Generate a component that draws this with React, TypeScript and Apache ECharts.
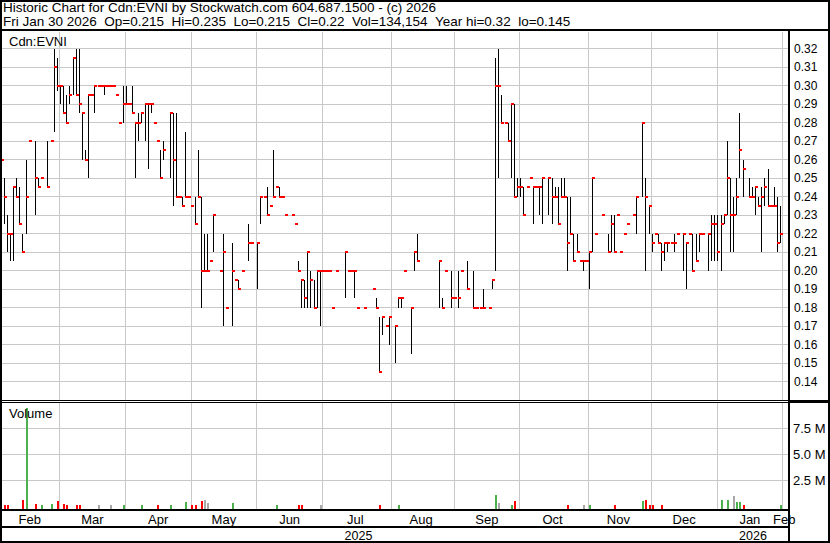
import React, { useEffect, useRef } from 'react';
import * as echarts from 'echarts';

// ---------- calendar ----------
const FIRST_DAY = '2025-02-03';
const LAST_DAY = '2026-02-03'; // two empty trailing sessions (Feb 2026)
const HOLIDAYS = [
  '2025-02-17', '2025-04-18', '2025-05-19', '2025-07-01', '2025-08-04',
  '2025-09-01', '2025-10-13', '2025-12-25', '2025-12-26', '2026-01-01',
];
const MONTHS = ['Jan', 'Feb', 'Mar', 'Apr', 'May', 'Jun', 'Jul', 'Aug', 'Sep', 'Oct', 'Nov', 'Dec'];

// ---------- texts ----------
const HEADER_1 = 'Historic Chart for Cdn:EVNI by Stockwatch.com 604.687.1500 - (c) 2026';
const HEADER_2 = ['Fri Jan 30 2026', 'Op=0.215', 'Hi=0.235', 'Lo=0.215', 'Cl=0.22', 'Vol=134,154', 'Year hi=0.32', 'lo=0.145'];
const SYMBOL_LABEL = 'Cdn:EVNI';
const VOLUME_LABEL = 'Volume';

// ---------- axes ----------
const PRICE_MIN = 0.13;
const PRICE_MAX = 0.329;
const PRICE_STEP = 0.01;
const VOL_MIN = 0;
const VOL_MAX = 9.93;
const VOL_STEP = 2.5;

// ---------- daily bars: [high, low, close], null = no trade ----------
type Bar = [number, number, number] | null;

const feb25: Bar[] = [
  [0.27, 0.23, 0.26], [0.25, 0.225, 0.24], [0.23, 0.21, 0.22], [0.22, 0.205, 0.22], [0.245, 0.205, 0.245],
  [0.25, 0.24, 0.24], [0.245, 0.225, 0.225], [0.22, 0.21, 0.21], [0.26, 0.22, 0.24], [0.27, 0.27, 0.27],
  null, [0.27, 0.23, 0.25], [0.25, 0.245, 0.245], [0.25, 0.25, 0.25], null,
  [0.27, 0.245, 0.245], [0.27, 0.27, 0.27], [0.32, 0.275, 0.31], [0.315, 0.297, 0.30],
];
const mar25: Bar[] = [
  [0.30, 0.29, 0.30], [0.30, 0.285, 0.285], [0.295, 0.28, 0.28], [0.30, 0.29, 0.295], [0.315, 0.295, 0.315],
  [0.32, 0.295, 0.295], [0.32, 0.285, 0.29], [0.285, 0.26, 0.285], [0.265, 0.26, 0.26], [0.295, 0.25, 0.295],
  [0.295, 0.295, 0.295], [0.30, 0.285, 0.30], [0.30, 0.30, 0.30], [0.30, 0.30, 0.30], [0.30, 0.295, 0.30],
  [0.30, 0.30, 0.30], [0.30, 0.30, 0.30], [0.30, 0.30, 0.30], [0.295, 0.295, 0.295], [0.28, 0.28, 0.28],
  [0.30, 0.28, 0.29],
];
const apr25: Bar[] = [
  [0.30, 0.29, 0.29], [0.29, 0.29, 0.29], [0.30, 0.285, 0.285], [0.28, 0.25, 0.28], [0.285, 0.27, 0.28],
  [0.285, 0.28, 0.285], [0.29, 0.27, 0.29], [0.29, 0.255, 0.29], [0.29, 0.285, 0.29], [0.28, 0.28, 0.28],
  [0.27, 0.27, 0.27], [0.265, 0.25, 0.25], [0.27, 0.26, 0.265], null, [0.285, 0.25, 0.285],
  [0.285, 0.235, 0.26], [0.285, 0.24, 0.24], [0.24, 0.24, 0.24], [0.24, 0.235, 0.235], [0.275, 0.24, 0.24],
  [0.24, 0.24, 0.24],
];
const may25: Bar[] = [
  [0.235, 0.235, 0.235], [0.24, 0.225, 0.225], [0.265, 0.24, 0.24], [0.24, 0.18, 0.20], [0.22, 0.20, 0.20],
  [0.22, 0.20, 0.20], [0.205, 0.205, 0.205], [0.23, 0.21, 0.23], null, [0.20, 0.20, 0.20],
  [0.22, 0.17, 0.21], [0.18, 0.18, 0.18], null, [0.215, 0.17, 0.20], [0.195, 0.195, 0.195],
  [0.195, 0.19, 0.19], [0.20, 0.20, 0.20], null, [0.225, 0.205, 0.215], [0.215, 0.215, 0.215],
  null,
];
const jun25: Bar[] = [
  [0.215, 0.19, 0.215], [0.24, 0.225, 0.24], [0.24, 0.24, 0.24], [0.245, 0.23, 0.23], [0.235, 0.235, 0.235],
  [0.265, 0.24, 0.24], [0.245, 0.245, 0.245], [0.245, 0.24, 0.24], [0.24, 0.24, 0.24], [0.23, 0.23, 0.23],
  null, [0.23, 0.23, 0.23], [0.225, 0.225, 0.225], [0.205, 0.20, 0.20], [0.195, 0.18, 0.195],
  [0.195, 0.18, 0.185], [0.21, 0.18, 0.21], [0.20, 0.18, 0.195], [0.195, 0.18, 0.18], [0.20, 0.18, 0.20],
  [0.20, 0.17, 0.20],
];
const jul25: Bar[] = [
  [0.20, 0.20, 0.20], [0.20, 0.20, 0.20], [0.20, 0.20, 0.20], [0.18, 0.18, 0.18], [0.20, 0.20, 0.20],
  null, null, [0.21, 0.185, 0.21], [0.20, 0.20, 0.20], [0.20, 0.20, 0.20],
  [0.20, 0.185, 0.20], [0.18, 0.18, 0.18], null, [0.18, 0.18, 0.18], null,
  null, [0.19, 0.19, 0.19], [0.185, 0.18, 0.18], [0.175, 0.145, 0.145], [0.175, 0.165, 0.175],
  [0.17, 0.17, 0.17], [0.175, 0.16, 0.175],
];
const aug25: Bar[] = [
  null, [0.17, 0.15, 0.17], [0.185, 0.18, 0.185], [0.185, 0.18, 0.185], [0.20, 0.20, 0.20],
  null, [0.18, 0.155, 0.18], [0.21, 0.20, 0.21], [0.22, 0.205, 0.205], null,
  null, null, null, null, null,
  [0.205, 0.18, 0.205], [0.185, 0.18, 0.18], [0.20, 0.20, 0.20], null, [0.20, 0.18, 0.185],
];
const sep25: Bar[] = [
  [0.185, 0.185, 0.185], [0.20, 0.18, 0.185], [0.20, 0.20, 0.20], null, [0.205, 0.19, 0.19],
  null, [0.20, 0.18, 0.18], [0.18, 0.18, 0.18], [0.18, 0.18, 0.18], [0.19, 0.18, 0.18],
  null, [0.18, 0.18, 0.18], [0.195, 0.19, 0.195], [0.315, 0.20, 0.30], [0.32, 0.25, 0.30],
  [0.295, 0.28, 0.28], [0.28, 0.28, 0.28], [0.28, 0.27, 0.27], [0.29, 0.25, 0.29], [0.29, 0.24, 0.24],
  [0.25, 0.24, 0.245],
];
const oct25: Bar[] = [
  [0.25, 0.24, 0.245], [0.245, 0.23, 0.23], [0.245, 0.245, 0.245], [0.25, 0.25, 0.25], [0.245, 0.225, 0.245],
  [0.245, 0.245, 0.245], [0.245, 0.23, 0.245], [0.25, 0.225, 0.25], null, [0.25, 0.23, 0.25],
  [0.25, 0.225, 0.24], [0.245, 0.24, 0.24], [0.245, 0.225, 0.225], [0.25, 0.24, 0.24], [0.25, 0.24, 0.24],
  [0.24, 0.20, 0.215], [0.24, 0.22, 0.22], [0.22, 0.205, 0.205], [0.22, 0.21, 0.21], [0.205, 0.205, 0.205],
  [0.205, 0.20, 0.205], [0.205, 0.205, 0.205],
];
const nov25: Bar[] = [
  [0.21, 0.19, 0.21], [0.25, 0.21, 0.25], [0.22, 0.22, 0.22], null, [0.23, 0.23, 0.23],
  null, [0.22, 0.21, 0.21], [0.23, 0.21, 0.225], [0.23, 0.21, 0.21], [0.23, 0.23, 0.23],
  [0.21, 0.21, 0.21], [0.22, 0.22, 0.22], [0.225, 0.225, 0.225], null, [0.23, 0.23, 0.23],
  [0.24, 0.22, 0.24], null, [0.28, 0.24, 0.28], [0.25, 0.20, 0.24], [0.235, 0.22, 0.235],
];
const dec25: Bar[] = [
  [0.22, 0.21, 0.215], [0.22, 0.22, 0.22], [0.22, 0.215, 0.215], [0.215, 0.20, 0.21], [0.215, 0.205, 0.215],
  [0.215, 0.21, 0.215], [0.215, 0.215, 0.215], [0.22, 0.21, 0.215], [0.22, 0.22, 0.22], null,
  [0.22, 0.20, 0.22], [0.215, 0.19, 0.215], [0.22, 0.22, 0.22], [0.22, 0.20, 0.20], [0.22, 0.205, 0.205],
  [0.22, 0.21, 0.22], [0.22, 0.22, 0.22], null, [0.22, 0.20, 0.22], [0.23, 0.205, 0.225],
  [0.23, 0.205, 0.225],
];
const jan26: Bar[] = [
  [0.23, 0.205, 0.21], [0.23, 0.20, 0.225], [0.23, 0.225, 0.23], [0.27, 0.23, 0.25], [0.25, 0.21, 0.23],
  [0.24, 0.21, 0.23], [0.25, 0.23, 0.24], [0.285, 0.25, 0.265], [0.26, 0.24, 0.255], null,
  [0.25, 0.24, 0.24], [0.245, 0.24, 0.24], [0.245, 0.23, 0.245], [0.24, 0.235, 0.235], [0.245, 0.21, 0.24],
  [0.25, 0.235, 0.245], [0.255, 0.235, 0.235], [0.235, 0.235, 0.235], [0.245, 0.235, 0.235], [0.24, 0.21, 0.215],
  [0.235, 0.215, 0.22],
];

// volume in millions of shares: [session index, volume]
const volumeMillions: [number, number][] = [
  [1, 0.12], [2, 0.12], [7, 0.65], [8, 9.45], [11, 0.2], [13, 0.1], [16, 0.2], [18, 0.5],
  [20, 0.2], [21, 0.1], [24, 0.1], [25, 0.1], [31, 0.1], [35, 0.1], [39, 0.1],
  [45, 0.1], [50, 0.1], [54, 0.1], [59, 0.4],
  [61, 0.1], [62, 0.1], [64, 0.5], [65, 0.65], [66, 0.3], [74, 0.3],
  [88, 0.1], [95, 0.1], [96, 0.1], [102, 0.1],
  [121, 0.1], [127, 0.1],
  [158, 1.04], [159, 0.3], [163, 0.1], [164, 0.5],
  [181, 0.1], [186, 0.1],
  [188, 0.1], [196, 0.1], [205, 0.5], [206, 0.6], [207, 0.1],
  [208, 0.1], [211, 0.1],
  [230, 0.6], [232, 0.6], [234, 1.0], [235, 0.4], [236, 0.45], [237, 0.1], [249, 0.134],
];

// ---------- style ----------
const FONT = '"Liberation Sans", Arial, Helvetica, sans-serif';
const GRID_COLOR = '#c8c8c8';
const UP = '#4cb04c';
const DOWN = '#ff0000';
const FLAT = '#a8a8a8';

function buildDates(): string[] {
  const out: string[] = [];
  const d = new Date(FIRST_DAY + 'T00:00:00Z');
  const end = new Date(LAST_DAY + 'T00:00:00Z');
  while (d.getTime() <= end.getTime()) {
    const wd = d.getUTCDay();
    const s = d.toISOString().slice(0, 10);
    if (wd !== 0 && wd !== 6 && HOLIDAYS.indexOf(s) < 0) out.push(s);
    d.setUTCDate(d.getUTCDate() + 1);
  }
  return out;
}

function buildOption() {
  const dates = buildDates();
  const bars: Bar[] = [
    ...feb25, ...mar25, ...apr25, ...may25, ...jun25, ...jul25,
    ...aug25, ...sep25, ...oct25, ...nov25, ...dec25, ...jan26,
  ];

  const ohlc: number[][] = [];
  const closes: (number | null)[] = [];
  bars.forEach((b, i) => {
    if (b) {
      ohlc.push([i, b[0], b[1], b[2]]);
      closes.push(b[2]);
    } else closes.push(null);
  });

  const prevClose = (i: number) => {
    for (let k = i - 1; k >= 0; k--) if (closes[k] != null) return closes[k] as number;
    return null;
  };
  const vol = volumeMillions.map(([i, v]) => {
    const c = closes[i];
    const p = prevClose(i);
    let dir = -1;
    if (c != null && p != null) dir = c > p ? 1 : c < p ? -1 : 0;
    return [i, v, dir];
  });

  // month / year groupings from the category list
  const monthStart = new Set<number>();
  const monthMid = new Set<number>();
  const yearMid = new Set<number>();
  let firstNewYear = -1;
  const groupMid = (keyLen: number, target: Set<number>) => {
    let s = 0;
    for (let i = 1; i <= dates.length; i++) {
      if (i === dates.length || dates[i].slice(0, keyLen) !== dates[s].slice(0, keyLen)) {
        target.add(Math.floor((s + i - 1) / 2));
        s = i;
      }
    }
  };
  groupMid(7, monthMid);
  groupMid(4, yearMid);
  for (let i = 1; i < dates.length; i++) {
    if (dates[i].slice(0, 7) !== dates[i - 1].slice(0, 7)) monthStart.add(i);
    if (firstNewYear < 0 && dates[i].slice(0, 4) !== dates[i - 1].slice(0, 4)) firstNewYear = i;
  }

  const monthSplit = {
    show: true,
    interval: (i: number) => monthStart.has(i),
    lineStyle: { color: GRID_COLOR, width: 1 },
  };

  const hText = HEADER_2.join('\u00a0\u00a0');

  return {
    animation: false,
    backgroundColor: '#ffffff',
    textStyle: { fontFamily: FONT },
    grid: [
      { left: 0, top: 32, width: 789, height: 368 },
      { left: 0, top: 403, width: 789, height: 103.3 },
      { left: 0, top: 403, width: 789, height: 107 },
    ],
    xAxis: [
      {
        gridIndex: 0, type: 'category', data: dates, boundaryGap: true,
        axisLine: { show: false }, axisTick: { show: false }, axisLabel: { show: false },
        splitLine: monthSplit,
      },
      { gridIndex: 1, type: 'category', data: dates, boundaryGap: true, show: false },
      {
        gridIndex: 2, type: 'category', data: dates, boundaryGap: true, position: 'bottom',
        axisLine: { show: true, lineStyle: { color: '#000', width: 2 } },
        axisTick: {
          show: true, interval: (i: number) => i === firstNewYear, length: 17,
          lineStyle: { color: '#000', width: 2 },
        },
        axisLabel: {
          show: true, interval: (i: number) => monthMid.has(i),
          formatter: (v: string) => MONTHS[parseInt(v.slice(5, 7), 10) - 1],
          fontSize: 13, color: '#000', margin: 3, fontFamily: FONT,
        },
        splitLine: monthSplit,
      },
      {
        gridIndex: 2, type: 'category', data: dates, boundaryGap: true, position: 'bottom', offset: 17,
        axisLine: { show: true, lineStyle: { color: '#000', width: 2 } },
        axisTick: {
          show: true, interval: (i: number) => i === firstNewYear, length: 16,
          lineStyle: { color: '#000', width: 2 },
        },
        axisLabel: {
          show: true, interval: (i: number) => yearMid.has(i),
          formatter: (v: string) => v.slice(0, 4),
          fontSize: 12.5, color: '#000', margin: 2, fontFamily: FONT,
        },
        splitLine: { show: false },
      },
    ],
    yAxis: [
      {
        gridIndex: 0, type: 'value', position: 'right',
        min: PRICE_MIN, max: PRICE_MAX, interval: PRICE_STEP,
        axisLine: { show: true, lineStyle: { color: '#000', width: 2 } },
        axisTick: { show: false },
        axisLabel: {
          fontSize: 12, color: '#000', margin: 5, fontFamily: FONT,
          formatter: (v: number) => v.toFixed(2), showMinLabel: false, showMaxLabel: false,
        },
        splitLine: { show: true, showMinLine: false, showMaxLine: false, lineStyle: { color: GRID_COLOR, width: 1 } },
      },
      {
        gridIndex: 1, type: 'value', position: 'right',
        min: VOL_MIN, max: VOL_MAX, interval: VOL_STEP,
        axisLine: { show: false }, axisTick: { show: false },
        axisLabel: {
          fontSize: 13, color: '#000', margin: 4, fontFamily: FONT,
          formatter: (v: number) => v.toFixed(1) + ' M', showMinLabel: false, showMaxLabel: false,
        },
        splitLine: { show: true, showMinLine: false, showMaxLine: false, lineStyle: { color: GRID_COLOR, width: 1 } },
      },
      { gridIndex: 2, type: 'value', show: false, min: 0, max: 1, splitLine: { show: false } },
    ],
    series: [
      {
        type: 'custom', name: 'price', xAxisIndex: 0, yAxisIndex: 0, silent: true,
        data: ohlc, encode: { x: 0, y: [1, 2, 3] },
        renderItem: (_p: any, api: any) => {
          const i = api.value(0);
          const hi = api.coord([i, api.value(1)]);
          const lo = api.coord([i, api.value(2)]);
          const cl = api.coord([i, api.value(3)]);
          const band = api.size([1, 0])[0];
          const x0 = Math.floor(hi[0] - band / 2) + 1;
          const yTop = Math.round(hi[1]);
          const yBot = Math.round(lo[1]);
          const yC = Math.round(cl[1]);
          return {
            type: 'group',
            children: [
              { type: 'rect', shape: { x: x0, y: yTop, width: 1, height: Math.max(yBot - yTop, 0) }, style: { fill: '#000' } },
              { type: 'rect', shape: { x: x0, y: yC - 1, width: 3, height: 2 }, style: { fill: '#ff0000' } },
            ],
          };
        },
      },
      {
        type: 'custom', name: 'volume', xAxisIndex: 1, yAxisIndex: 1, silent: true,
        data: vol, encode: { x: 0, y: 1 },
        renderItem: (_p: any, api: any) => {
          const i = api.value(0);
          const p = api.coord([i, api.value(1)]);
          const band = api.size([1, 0])[0];
          const x0 = Math.floor(p[0] - band / 2) + 1;
          const base = api.coord([i, 0])[1] + 2.7;
          const top = Math.min(Math.round(p[1]), base - 1);
          const d = api.value(2);
          return {
            type: 'rect',
            shape: { x: x0, y: top, width: 2, height: base - top },
            style: { fill: d > 0 ? UP : d < 0 ? DOWN : FLAT },
          };
        },
      },
    ],
    graphic: [
      { type: 'text', x: 3, y: 7, z: 100, silent: true, style: { text: HEADER_1, fontSize: 13.5, fontFamily: FONT, fill: '#000', verticalAlign: 'middle' } },
      { type: 'text', x: 3, y: 21.5, z: 100, silent: true, style: { text: hText, fontSize: 13.5, fontFamily: FONT, fill: '#000', verticalAlign: 'middle' } },
      { type: 'text', x: 9, y: 41, z: 100, silent: true, style: { text: SYMBOL_LABEL, fontSize: 13, fontFamily: FONT, fill: '#000', verticalAlign: 'middle' } },
      { type: 'text', x: 9, y: 413.5, z: 100, silent: true, style: { text: VOLUME_LABEL, fontSize: 13, fontFamily: FONT, fill: '#000', verticalAlign: 'middle' } },
      { type: 'line', z: 100, silent: true, shape: { x1: 0, y1: 30, x2: 830, y2: 30 }, style: { stroke: '#000', lineWidth: 2 } },
      { type: 'line', z: 100, silent: true, shape: { x1: 789, y1: 30, x2: 789, y2: 543 }, style: { stroke: '#000', lineWidth: 2 } },
      { type: 'line', z: 100, silent: true, shape: { x1: 0, y1: 400.5, x2: 789, y2: 400.5 }, style: { stroke: '#000', lineWidth: 1 } },
      { type: 'line', z: 100, silent: true, shape: { x1: 0, y1: 402.5, x2: 789, y2: 402.5 }, style: { stroke: '#000', lineWidth: 1 } },
      { type: 'rect', z: 100, silent: true, shape: { x: 789, y: 400, width: 41, height: 3 }, style: { fill: '#000' } },
      { type: 'rect', z: 100, silent: true, shape: { x: 1, y: 1, width: 828, height: 541 }, style: { fill: 'none', stroke: '#000', lineWidth: 2 } },
    ],
  };
}

export default function App() {
  const ref = useRef<HTMLDivElement>(null);
  useEffect(() => {
    document.body.style.margin = '0';
    if (!ref.current) return;
    const chart = echarts.init(ref.current, undefined, { renderer: 'svg' });
    chart.setOption(buildOption() as any);
    return () => chart.dispose();
  }, []);
  return <div ref={ref} style={{ width: 830, height: 543 }} />;
}
